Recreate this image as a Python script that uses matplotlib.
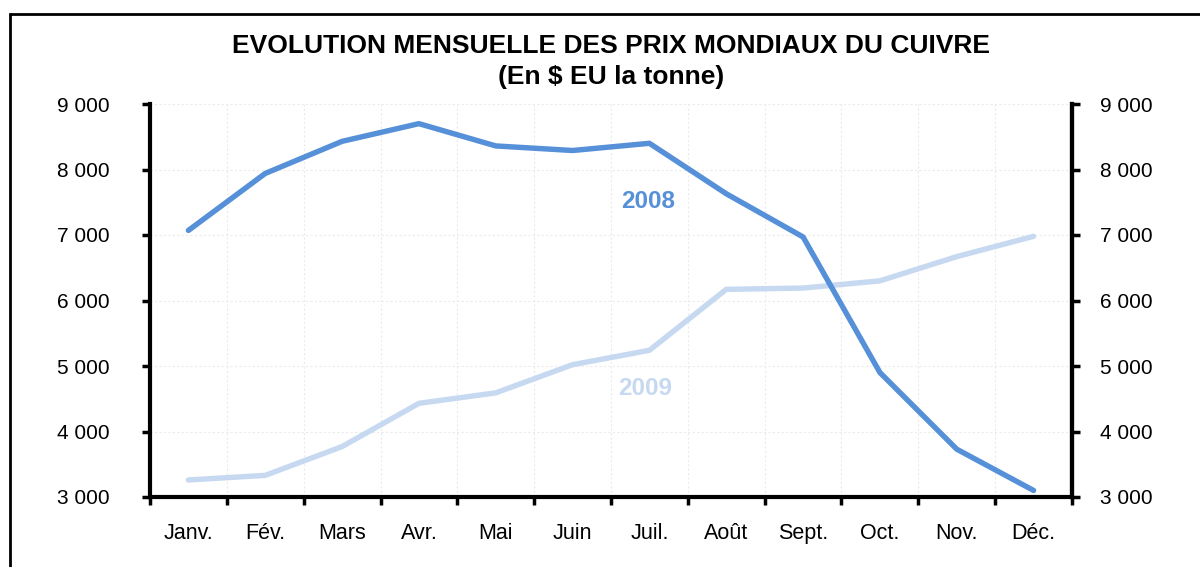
import matplotlib
matplotlib.use("Agg")
import matplotlib.pyplot as plt
from matplotlib.patches import Rectangle

plt.rcParams['font.family'] = ['Liberation Sans', 'DejaVu Sans']

months = ["Janv.", "Fév.", "Mars", "Avr.", "Mai", "Juin", "Juil.", "Août", "Sept.", "Oct.", "Nov.", "Déc."]
prix_2008 = [7070, 7940, 8430, 8700, 8360, 8290, 8400, 7630, 6970, 4900, 3730, 3100]
prix_2009 = [3260, 3330, 3770, 4430, 4590, 5020, 5240, 6170, 6190, 6300, 6670, 6980]
yticks = [3000, 4000, 5000, 6000, 7000, 8000, 9000]
ytick_labels = ["3 000", "4 000", "5 000", "6 000", "7 000", "8 000", "9 000"]

c2008 = "#5690D8"
c2009 = "#C6D9F1"

W, H = 1200, 567
fig = plt.figure(figsize=(W / 100, H / 100), dpi=100)

# frame
fig.patches.append(Rectangle((10 / W, -0.1), 1.2, (H - 14) / H + 0.1, transform=fig.transFigure,
                             fill=False, edgecolor="black", linewidth=2, zorder=0))

ax = fig.add_axes([150 / W, 1 - 497 / H, (1072 - 150) / W, (497 - 104) / H])
x = list(range(len(months)))
ax.plot(x, prix_2009, color=c2009, linewidth=3.9, solid_capstyle="round", zorder=3)
ax.plot(x, prix_2008, color=c2008, linewidth=3.9, solid_capstyle="round", zorder=4)

ax.set_xlim(-0.5, len(months) - 0.5)
ax.set_ylim(3000, 9000)
ax.set_yticks(yticks)
ax.set_yticklabels(ytick_labels)
ax.set_xticks(x)
ax.set_xticklabels(months)
ax.set_xticks([i - 0.5 for i in range(len(months) + 1)], minor=True)

ax.tick_params(axis="x", which="major", length=0, pad=19, labelsize=15.5)
ax.tick_params(axis="x", which="minor", length=6, width=2.5, direction="out")
ax.tick_params(axis="y", length=6, width=2.5, direction="out", labelsize=15, pad=23)

ax2 = ax.twinx()
ax2.set_ylim(ax.get_ylim())
ax2.set_yticks(yticks)
ax2.set_yticklabels(ytick_labels)
ax2.tick_params(axis="y", length=6, width=2.5, direction="out", labelsize=15, pad=14)
for s in ["top", "left", "bottom"]:
    ax2.spines[s].set_visible(False)
ax2.spines["right"].set_linewidth(3)

ax.grid(True, axis="y", color="#EBEBEB", linewidth=0.8, linestyle=(0, (2, 2)), zorder=0)
ax.grid(True, axis="x", which="minor", color="#EBEBEB", linewidth=0.8, linestyle=(0, (2, 2)), zorder=0)

ax.spines["top"].set_visible(False)
for s in ["left", "right", "bottom"]:
    ax.spines[s].set_linewidth(3)
    ax.spines[s].set_color("black")

ax.text(5.98, 7519, "2008", color=c2008, fontsize=17.5, fontweight="bold", ha="center", va="center")
ax.text(5.94, 4664, "2009", color=c2009, fontsize=17.5, fontweight="bold", ha="center", va="center")

fig.text(611 / W, 1 - 46 / H, "EVOLUTION MENSUELLE DES PRIX MONDIAUX DU CUIVRE",
         fontsize=19, fontweight="bold", ha="center", va="center")
fig.text(611 / W, 1 - 77 / H, "(En $ EU la tonne)",
         fontsize=19, fontweight="bold", ha="center", va="center")

fig.savefig("out.png", dpi=100)
